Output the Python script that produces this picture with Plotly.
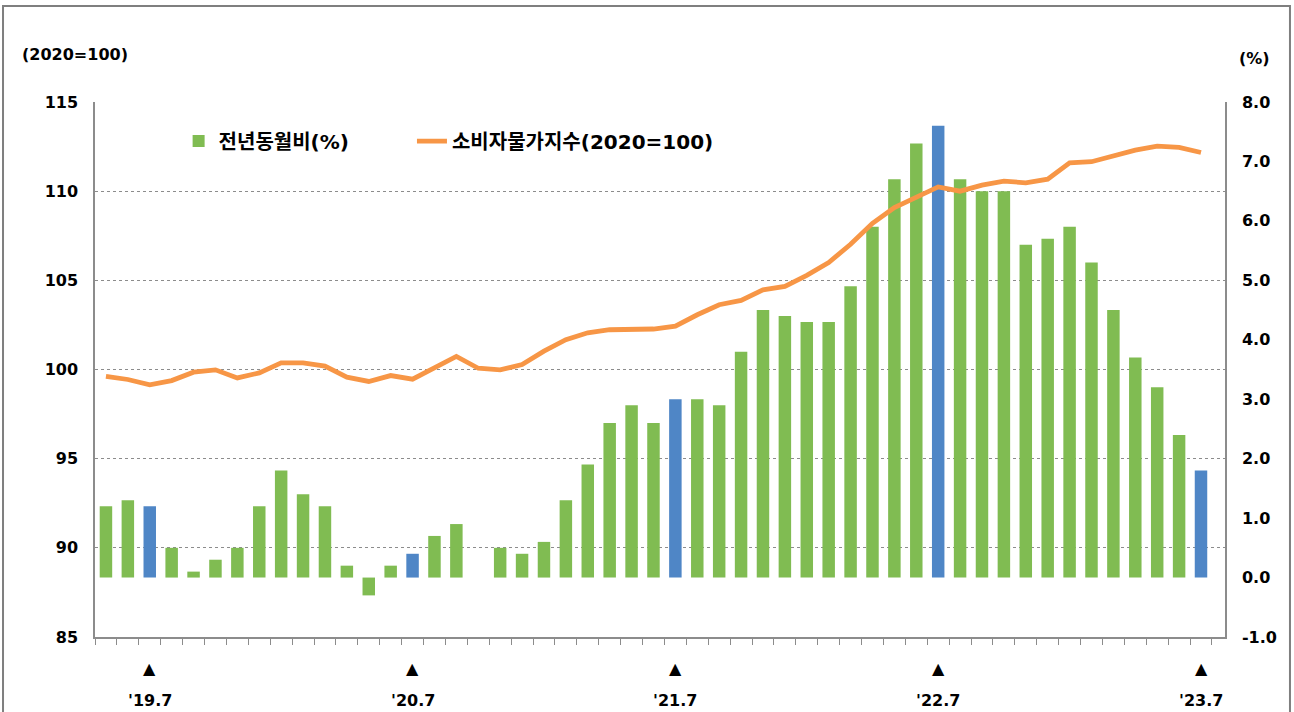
import plotly.graph_objects as go

months = [
    "2019.05", "2019.06", "2019.07", "2019.08", "2019.09", "2019.10", "2019.11", "2019.12",
    "2020.01", "2020.02", "2020.03", "2020.04", "2020.05", "2020.06", "2020.07", "2020.08",
    "2020.09", "2020.10", "2020.11", "2020.12", "2021.01", "2021.02", "2021.03", "2021.04",
    "2021.05", "2021.06", "2021.07", "2021.08", "2021.09", "2021.10", "2021.11", "2021.12",
    "2022.01", "2022.02", "2022.03", "2022.04", "2022.05", "2022.06", "2022.07", "2022.08",
    "2022.09", "2022.10", "2022.11", "2022.12", "2023.01", "2023.02", "2023.03", "2023.04",
    "2023.05", "2023.06", "2023.07",
]

yoy_pct = [
    1.2, 1.3, 1.2, 0.5, 0.1, 0.3, 0.5, 1.2, 1.8, 1.4,
    1.2, 0.2, -0.3, 0.2, 0.4, 0.7, 0.9, 0.0, 0.5, 0.4,
    0.6, 1.3, 1.9, 2.6, 2.9, 2.6, 3.0, 3.0, 2.9, 3.8,
    4.5, 4.4, 4.3, 4.3, 4.9, 5.9, 6.7, 7.3, 7.6, 6.7,
    6.5, 6.5, 5.6, 5.7, 5.9, 5.3, 4.5, 3.7, 3.2, 2.4,
    1.8,
]

cpi_index = [
    99.61, 99.44, 99.14, 99.38, 99.85, 99.98, 99.53, 99.81, 100.37, 100.37,
    100.19, 99.57, 99.33, 99.66, 99.46, 100.13, 100.73, 100.07, 99.98, 100.28,
    101.03, 101.67, 102.06, 102.23, 102.23, 102.27, 102.43, 103.07, 103.63, 103.87,
    104.47, 104.66, 105.28, 106.00, 107.02, 108.20, 109.08, 109.65, 110.24, 110.00,
    110.34, 110.56, 110.47, 110.67, 111.59, 111.65, 111.97, 112.30, 112.53, 112.46,
    112.17,
]

label_months = ["2019.07", "2020.07", "2021.07", "2022.07", "2023.07"]
label_text = ["'19.7", "'20.7", "'21.7", "'22.7", "'23.7"]

left_ticks = [85, 90, 95, 100, 105, 110, 115]
right_ticks = [-1.0, 0.0, 1.0, 2.0, 3.0, 4.0, 5.0, 6.0, 7.0, 8.0]
right_tick_text = ["-1.0", "0.0", "1.0", "2.0", "3.0", "4.0", "5.0", "6.0", "7.0", "8.0"]

GREEN = "#80BC52"
BLUE = "#4F86C6"
ORANGE = "#F79646"
GRAY = "#8C8C8C"
FONT = "DejaVu Sans, Noto Sans CJK KR, sans-serif"

bar_colors = [BLUE if m in label_months else GREEN for m in months]

fig = go.Figure()
fig.add_trace(go.Bar(
    x=months, y=yoy_pct, name="전년동월비(%)",
    marker=dict(color=bar_colors, line=dict(width=0)),
    yaxis="y", legend="legend",
))
fig.add_trace(go.Scatter(
    x=months, y=cpi_index, name="소비자물가지수(2020=100)",
    mode="lines", line=dict(color=ORANGE, width=4.8),
    yaxis="y2", legend="legend2",
))

bold = dict(family=FONT, size=16, color="#000000", weight="bold")
legend_font = dict(family=FONT, size=20, color="#000000", weight="bold")
annotations = []
for m, t in zip(label_months, label_text):
    idx = months.index(m)
    annotations.append(dict(x=idx, y=-0.058, xref="x", yref="paper", text="▲",
                            showarrow=False, font=dict(family=FONT, size=16, color="#000000"),
                            yanchor="middle"))
    annotations.append(dict(x=idx, y=-0.118, xref="x", yref="paper", text=t,
                            showarrow=False, font=bold, yanchor="middle"))
annotations.append(dict(x=-0.066, y=1.088, xref="paper", yref="paper", text="(2020=100)",
                        showarrow=False, xanchor="left", yanchor="middle", font=bold))
annotations.append(dict(x=1.0106, y=1.082, xref="paper", yref="paper", text="(%)",
                        showarrow=False, xanchor="left", yanchor="middle", font=bold))

fig.update_layout(
    width=1294, height=712,
    margin=dict(l=95, r=69, t=102, b=75, pad=0),
    paper_bgcolor="white", plot_bgcolor="white",
    bargap=0.43,
    showlegend=True,
    legend=dict(orientation="h", x=0.074, y=0.927, xanchor="left", yanchor="middle",
                font=legend_font, bgcolor="rgba(0,0,0,0)"),
    legend2=dict(orientation="h", x=0.2805, y=0.927, xanchor="left", yanchor="middle",
                 font=legend_font, bgcolor="rgba(0,0,0,0)"),
    xaxis=dict(
        type="category", tickmode="array", tickvals=months, ticktext=[""] * len(months),
        tickson="boundaries", ticks="outside", ticklen=6, tickcolor=GRAY, tickwidth=1,
        showline=True, linecolor=GRAY, linewidth=1.5, showgrid=False, zeroline=False,
    ),
    yaxis=dict(
        side="right", range=[-1, 8], tickmode="array", tickvals=right_ticks,
        ticktext=right_tick_text, showgrid=False, zeroline=False,
        showline=True, linecolor=GRAY, linewidth=1.5, ticks="",
        ticklabelstandoff=12, tickfont=bold,
    ),
    yaxis2=dict(
        side="left", overlaying="y", range=[85, 115], tickmode="array", tickvals=left_ticks,
        showgrid=True, gridcolor=GRAY, griddash="dot", gridwidth=1, zeroline=False,
        showline=True, linecolor=GRAY, linewidth=1.5, ticks="",
        ticklabelstandoff=12, tickfont=bold,
    ),
    annotations=annotations,
    shapes=[dict(type="rect", xref="paper", yref="paper", x0=-0.0814, x1=1.0575,
                 y0=-0.16, y1=1.1794, line=dict(color="#7F7F7F", width=2),
                 fillcolor="rgba(0,0,0,0)", layer="below")],
)

fig.write_html(
    "out.html",
    config={"displayModeBar": False},
    post_script="document.body.style.margin='0px';document.body.style.overflow='hidden';",
)
